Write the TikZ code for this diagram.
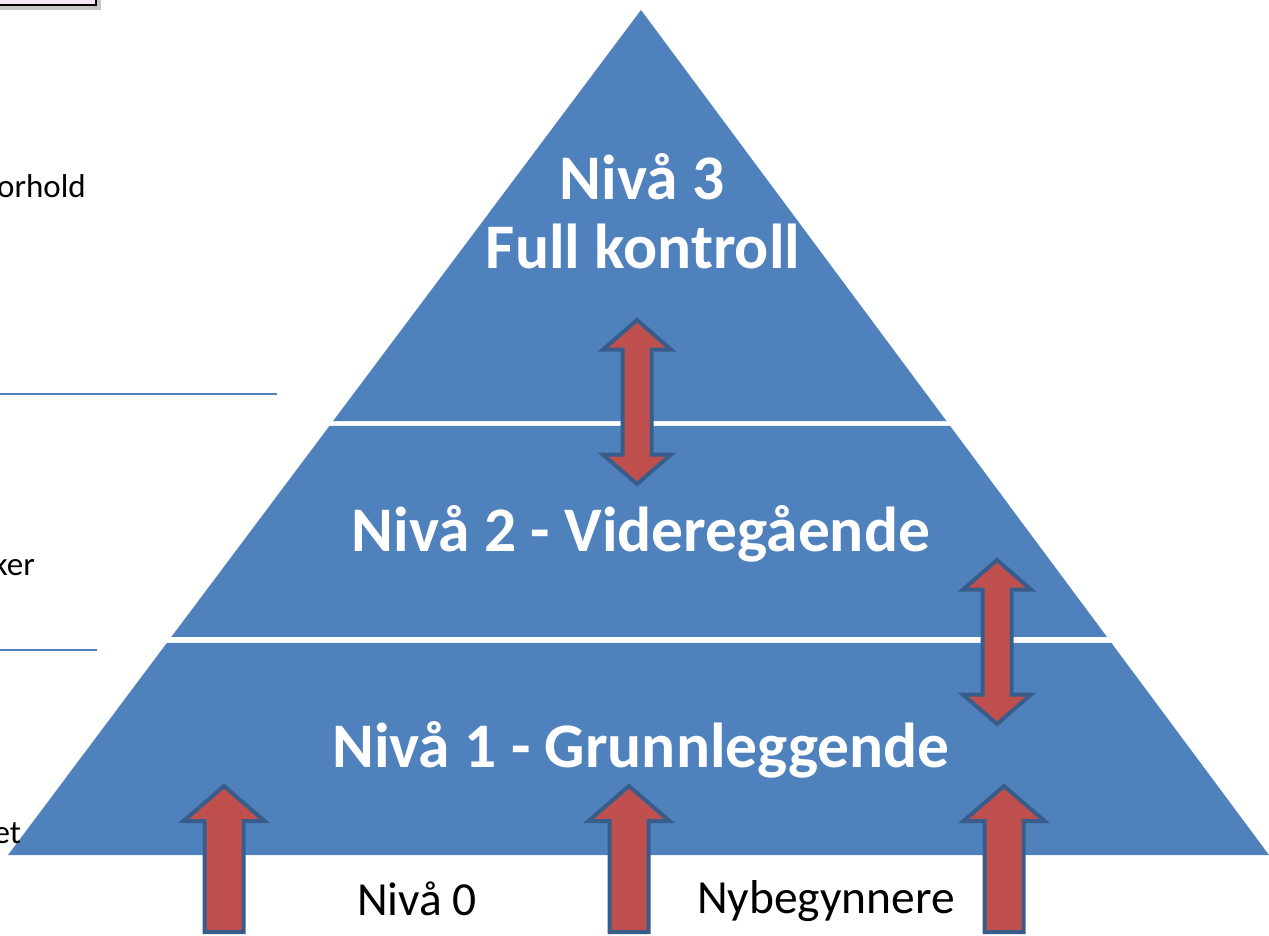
\documentclass[tikz,border=0pt]{standalone}
\usepackage{fontspec}
\setmainfont{Carlito}
\usetikzlibrary{calc}
\definecolor{pyrblue}{HTML}{4F81BD}
\definecolor{arrred}{HTML}{C0504D}
\definecolor{arrborder}{HTML}{385D8A}
\definecolor{boxpink}{HTML}{F9E4F5}
\tikzset{
  tier/.style={fill=pyrblue, draw=none},
  arrowshape/.style={fill=arrred, draw=arrborder, line width=4pt, line join=miter},
  bigtext/.style={text=white, font=\fontsize{63.5}{70}\selectfont\bfseries, inner sep=0pt, anchor=base},
  smalltext/.style={text=black, font=\fontsize{47.5}{52}\selectfont, inner sep=0pt, anchor=base},
  sidetext/.style={text=black, font=\fontsize{33}{40}\selectfont, inner sep=0pt, anchor=base east},
  sideline/.style={draw=pyrblue, line width=2pt},
  uparrow/.pic={\path[arrowshape] (0,0) -- (40.5,35) -- (19.5,35) -- (19.5,146) -- (-19.5,146) -- (-19.5,35) -- (-40.5,35) -- cycle;},
  duparrow/.pic={\path[arrowshape] (0,-82) -- (34,-52.5) -- (14.5,-52.5) -- (14.5,52.5) -- (34,52.5) -- (0,82) -- (-34,52.5) -- (-14.5,52.5) -- (-14.5,-52.5) -- (-34,-52.5) -- cycle;}
}
\begin{document}
\begin{tikzpicture}[x=1pt,y=-1pt]
\useasboundingbox (0,0) rectangle (1269,936);
\clip (0,0) rectangle (1269,936);
% top-left box
\fill[black!45, opacity=0.5] (-10,-6) rectangle (101,10);
\draw[fill=boxpink, draw=black, line width=2pt] (-10,-10) rectangle (96,5);
% side texts and lines
\node[sidetext] (t1) at (86,198) {orhold};
\node[sidetext] (t2) at (35,575) {ker};
\draw[sideline] (0,394) -- (277,394);
\draw[sideline] (0,650) -- (97,650);
% pyramid
\coordinate (A) at (641,10);
\coordinate (L) at (8,855);
\coordinate (R) at (1269,855);
\fill[tier] (A) -- ($(A)!0.4864!(R)$) -- ($(A)!0.4864!(L)$) -- cycle;
\fill[tier] ($(A)!0.4923!(L)$) -- ($(A)!0.4923!(R)$) -- ($(A)!0.7420!(R)$) -- ($(A)!0.7420!(L)$) -- cycle;
\fill[tier] ($(A)!0.7491!(L)$) -- ($(A)!0.7491!(R)$) -- (R) -- (L) -- cycle;
\node[sidetext] (t3) at (21,843) {et};
% level texts
\node[bigtext] (n3) at (642,200) {Nivå 3};
\node[bigtext] (n3b) at (643,268) {Full kontroll};
\node[bigtext] (n2) at (641,551) {Nivå 2 - Videregående};
\node[bigtext] (n1) at (641,767) {Nivå 1 - Grunnleggende};
\node[smalltext] (n0) at (417,915) {Nivå 0};
\node[smalltext] (nb) at (826,913) {Nybegynnere};
% arrows
\pic at (637,402) {duparrow};
\pic at (997,642) {duparrow};
\pic at (224,786) {uparrow};
\pic at (629,786) {uparrow};
\pic at (1004,786) {uparrow};
\end{tikzpicture}
\end{document}
